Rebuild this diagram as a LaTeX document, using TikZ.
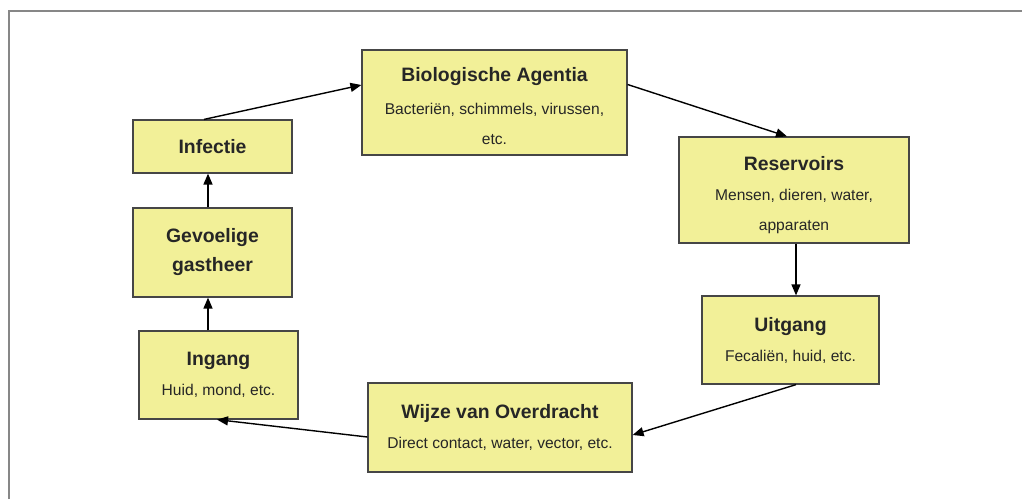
\documentclass[tikz,border=0pt]{standalone}
\usepackage{fontspec}
\setmainfont{Liberation Sans}
\usetikzlibrary{arrows.meta}
\definecolor{boxfill}{RGB}{242,240,152}
\definecolor{boxline}{RGB}{70,70,70}
\definecolor{framegray}{RGB}{135,135,135}
\newcommand{\ttl}[1]{{\fontsize{19.4}{29}\selectfont\bfseries #1}}
\tikzset{
  stage/.style={draw=boxline, fill=boxfill, line width=1.2pt, inner sep=0pt,
    align=center, font=\fontsize{15.6}{30}\selectfont, text=black!85},
  flow/.style={line width=1.4pt, -{Triangle[length=11pt,width=9pt]}},
}
\begin{document}
\begin{tikzpicture}[x=1pt,y=-1pt]
\useasboundingbox (0,0) rectangle (1022,499);
\draw[framegray, line width=1.3pt] (9,499) -- (9,11) -- (1022,11);

\node[stage, minimum width=265pt, minimum height=105pt] (bio) at (494.5,102.5)
  {\ttl{\rule{0pt}{21pt}Biologische Agentia}\\[3pt]Bacteriën, schimmels, virussen,\\etc.};
\node[stage, minimum width=230pt, minimum height=106pt] (res) at (794,190)
  {\ttl{\rule{0pt}{24pt}Reservoirs}\\Mensen, dieren, water,\\apparaten};
\node[stage, minimum width=177pt, minimum height=88pt] (uit) at (790.5,340)
  {\ttl{Uitgang}\\Fecaliën, huid, etc.};
\node[stage, minimum width=264pt, minimum height=89pt] (wij) at (500,427.5)
  {\ttl{Wijze van Overdracht}\\Direct contact, water, vector, etc.};
\node[stage, minimum width=159pt, minimum height=88pt] (ing) at (218.5,375)
  {\ttl{Ingang}\\Huid, mond, etc.};
\node[stage, minimum width=159pt, minimum height=89pt] (gev) at (212.5,252.5)
  {\ttl{Gevoelige}\\[-1pt]\ttl{gastheer}};
\node[stage, minimum width=159pt, minimum height=53pt] (inf) at (212.5,146.5)
  {\ttl{Infectie}};

\draw[flow] ([xshift=-8.5pt]inf.north) -- ([yshift=17.5pt]bio.west);
\draw[flow] ([yshift=18pt]bio.east) -- ([xshift=-7pt]res.north);
\draw[flow] ([xshift=2pt]res.south) -- ([xshift=5.5pt]uit.north);
\draw[flow] ([xshift=5.5pt]uit.south) -- ([yshift=-7.5pt]wij.east);
\draw[flow] ([yshift=-9.5pt]wij.west) -- ([xshift=-1.5pt]ing.south);
\draw[flow] ([xshift=-10.5pt]ing.north) -- ([xshift=-4.5pt]gev.south);
\draw[flow] ([xshift=-4.5pt]gev.north) -- ([xshift=-4.5pt]inf.south);
\end{tikzpicture}
\end{document}
